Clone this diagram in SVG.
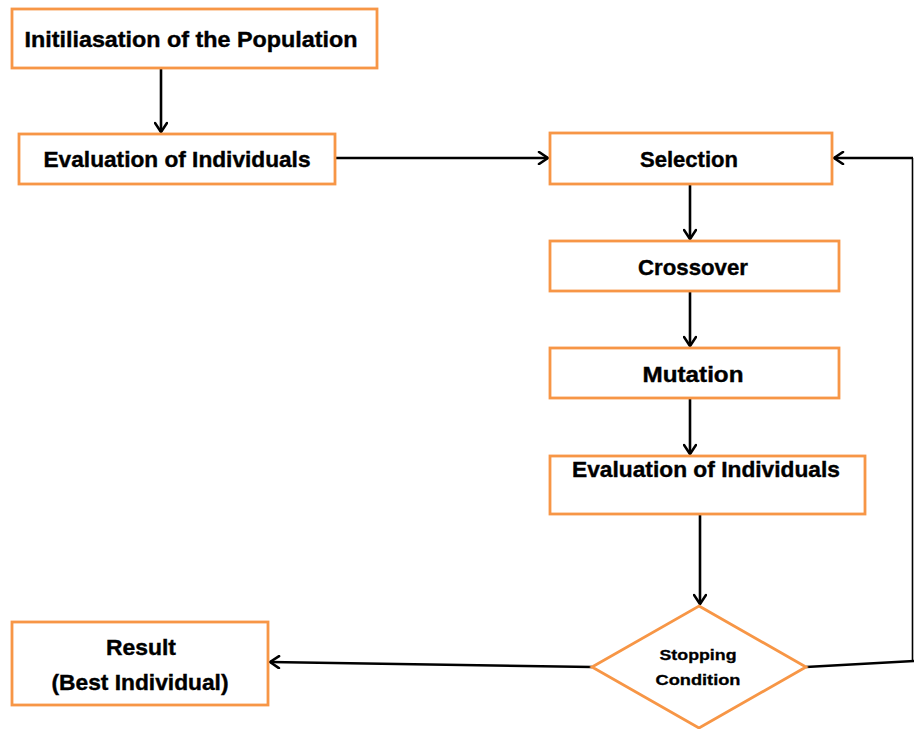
<svg xmlns="http://www.w3.org/2000/svg" width="914" height="729" viewBox="0 0 914 729">
<defs>
<marker id="arr" markerWidth="14" markerHeight="14" refX="12" refY="7" orient="auto" markerUnits="userSpaceOnUse">
<path d="M3,1 L12,7 L3,13" fill="none" stroke="#000" stroke-width="2.6" stroke-linecap="round" stroke-linejoin="round"/>
</marker>
<style>
.box{fill:#fff;stroke:#F79646;stroke-width:2.8}
.t{font-family:"Liberation Sans",Arial,sans-serif;font-weight:bold;font-size:22px;fill:#000;text-anchor:middle;stroke:#000;stroke-width:0.4}
.s{font-size:15px;stroke-width:0.3}
.c{fill:none;stroke:#000;stroke-width:2.6}
.thin{fill:none;stroke:#000;stroke-width:1.6}
</style>
</defs>
<rect width="914" height="729" fill="#fff"/>
<g id="connectors">
<line class="c" x1="161" y1="69" x2="161" y2="132" marker-end="url(#arr)"/>
<line class="c" x1="336" y1="158" x2="548" y2="158" marker-end="url(#arr)"/>
<line class="c" x1="690" y1="184" x2="690" y2="239" marker-end="url(#arr)"/>
<line class="c" x1="690" y1="292" x2="690" y2="346" marker-end="url(#arr)"/>
<line class="c" x1="690" y1="399" x2="690" y2="454" marker-end="url(#arr)"/>
<line class="c" x1="700" y1="515" x2="700" y2="604" marker-end="url(#arr)"/>
<line class="c" x1="592" y1="667" x2="270" y2="662" marker-end="url(#arr)"/>
<line class="c" x1="806" y1="667" x2="914" y2="661"/>
<line class="thin" x1="912.5" y1="158" x2="912.5" y2="662"/>
<line class="c" x1="913" y1="158" x2="834" y2="158" marker-end="url(#arr)"/>
</g>
<g id="init">
<rect class="box" x="12" y="9" width="365" height="59"/>
<text class="t" x="191" y="47" textLength="333" lengthAdjust="spacingAndGlyphs">Initiliasation of the Population</text>
</g>
<g id="eval1">
<rect class="box" x="19" y="134" width="316" height="50"/>
<text class="t" x="177" y="167" textLength="267" lengthAdjust="spacingAndGlyphs">Evaluation of Individuals</text>
</g>
<g id="selection">
<rect class="box" x="550" y="133" width="282" height="51"/>
<text class="t" x="689" y="167" textLength="98" lengthAdjust="spacingAndGlyphs">Selection</text>
</g>
<g id="crossover">
<rect class="box" x="550" y="241" width="289" height="50"/>
<text class="t" x="693" y="275" textLength="110" lengthAdjust="spacingAndGlyphs">Crossover</text>
</g>
<g id="mutation">
<rect class="box" x="550" y="348" width="289" height="50"/>
<text class="t" x="693" y="382" textLength="101" lengthAdjust="spacingAndGlyphs">Mutation</text>
</g>
<g id="eval2">
<rect class="box" x="550" y="456" width="315" height="58"/>
<text class="t" x="706" y="477" textLength="268" lengthAdjust="spacingAndGlyphs">Evaluation of Individuals</text>
</g>
<g id="stopping">
<polygon class="box" points="699,606 806,667 699,728 592,667"/>
<text class="t s" x="698" y="660" textLength="77" lengthAdjust="spacingAndGlyphs">Stopping</text>
<text class="t s" x="698" y="685" textLength="85" lengthAdjust="spacingAndGlyphs">Condition</text>
</g>
<g id="result">
<rect class="box" x="12" y="622" width="256" height="83"/>
<text class="t" x="141" y="655" textLength="70" lengthAdjust="spacingAndGlyphs">Result</text>
<text class="t" x="140" y="690" textLength="177" lengthAdjust="spacingAndGlyphs">(Best Individual)</text>
</g>
</svg>
